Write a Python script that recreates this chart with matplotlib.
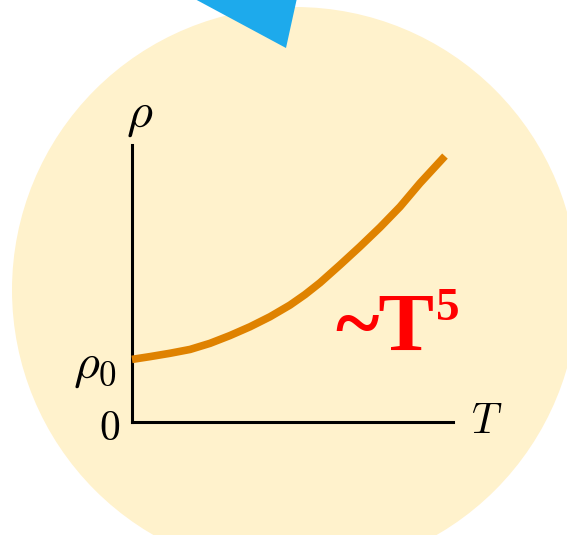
import matplotlib
matplotlib.use("Agg")
import matplotlib.pyplot as plt
from matplotlib.patches import Circle, Polygon

plt.rcParams['mathtext.fontset'] = 'cm'

# Data (T normalized, rho normalized)
T_vals = [0.0, 0.056, 0.118, 0.181, 0.243, 0.305, 0.368, 0.430, 0.492,
          0.539, 0.586, 0.648, 0.710, 0.773, 0.835, 0.897, 0.975]
rho_vals = [0.226, 0.236, 0.248, 0.262, 0.284, 0.312, 0.344, 0.380, 0.422,
            0.460, 0.503, 0.567, 0.633, 0.703, 0.777, 0.862, 0.960]
curve_label = "~T"
curve_exp = "5"

W, H = 567, 535
fig = plt.figure(figsize=(W / 100, H / 100), dpi=100)
fig.patch.set_facecolor('white')

# Background axes in pixel coordinates
bg = fig.add_axes([0, 0, 1, 1])
bg.set_xlim(0, W)
bg.set_ylim(H, 0)
bg.axis('off')
bg.add_patch(Circle((295, 290), 283, facecolor='#FFF2CC', edgecolor='none', zorder=1))
bg.add_patch(Polygon([(193, -2), (297, -2), (286, 48)], closed=True,
                     facecolor='#1DAAEC', edgecolor='none', zorder=2))

# Labels
bg.text(140, 115, r'$\rho$', fontsize=36, ha='center', va='center', zorder=5)
bg.text(95, 366, r'$\rho_0$', fontsize=36, ha='center', va='center', zorder=5)
bg.text(110, 428, r'$0$', fontsize=30, ha='center', va='center', zorder=5)
bg.text(487, 421, r'$T$', fontsize=30, ha='center', va='center', zorder=5)

# Plot axes
x0, x1 = 132, 453
y0, y1 = 145, 422
ax = fig.add_axes([x0 / W, 1 - y1 / H, (x1 - x0) / W, (y1 - y0) / H])
ax.set_xlim(0, 1)
ax.set_ylim(0, 1)
ax.patch.set_alpha(0)
for s in ['top', 'right']:
    ax.spines[s].set_visible(False)
for s in ['left', 'bottom']:
    ax.spines[s].set_linewidth(2.2)
    ax.spines[s].set_color('black')
ax.set_xticks([])
ax.set_yticks([])

ax.plot(T_vals, rho_vals, color='#DF8200', lw=5.5, solid_capstyle='butt',
        solid_joinstyle='round', zorder=3, clip_on=False)

bg.text(335, 350, curve_label, fontsize=60, color='#FF0000', fontweight='bold',
        family='Liberation Serif', ha='left', va='baseline', zorder=5)
bg.text(436, 320, curve_exp, fontsize=34, color='#FF0000', fontweight='bold',
        family='Liberation Serif', ha='left', va='baseline', zorder=5)

fig.savefig('out.png', dpi=100)
